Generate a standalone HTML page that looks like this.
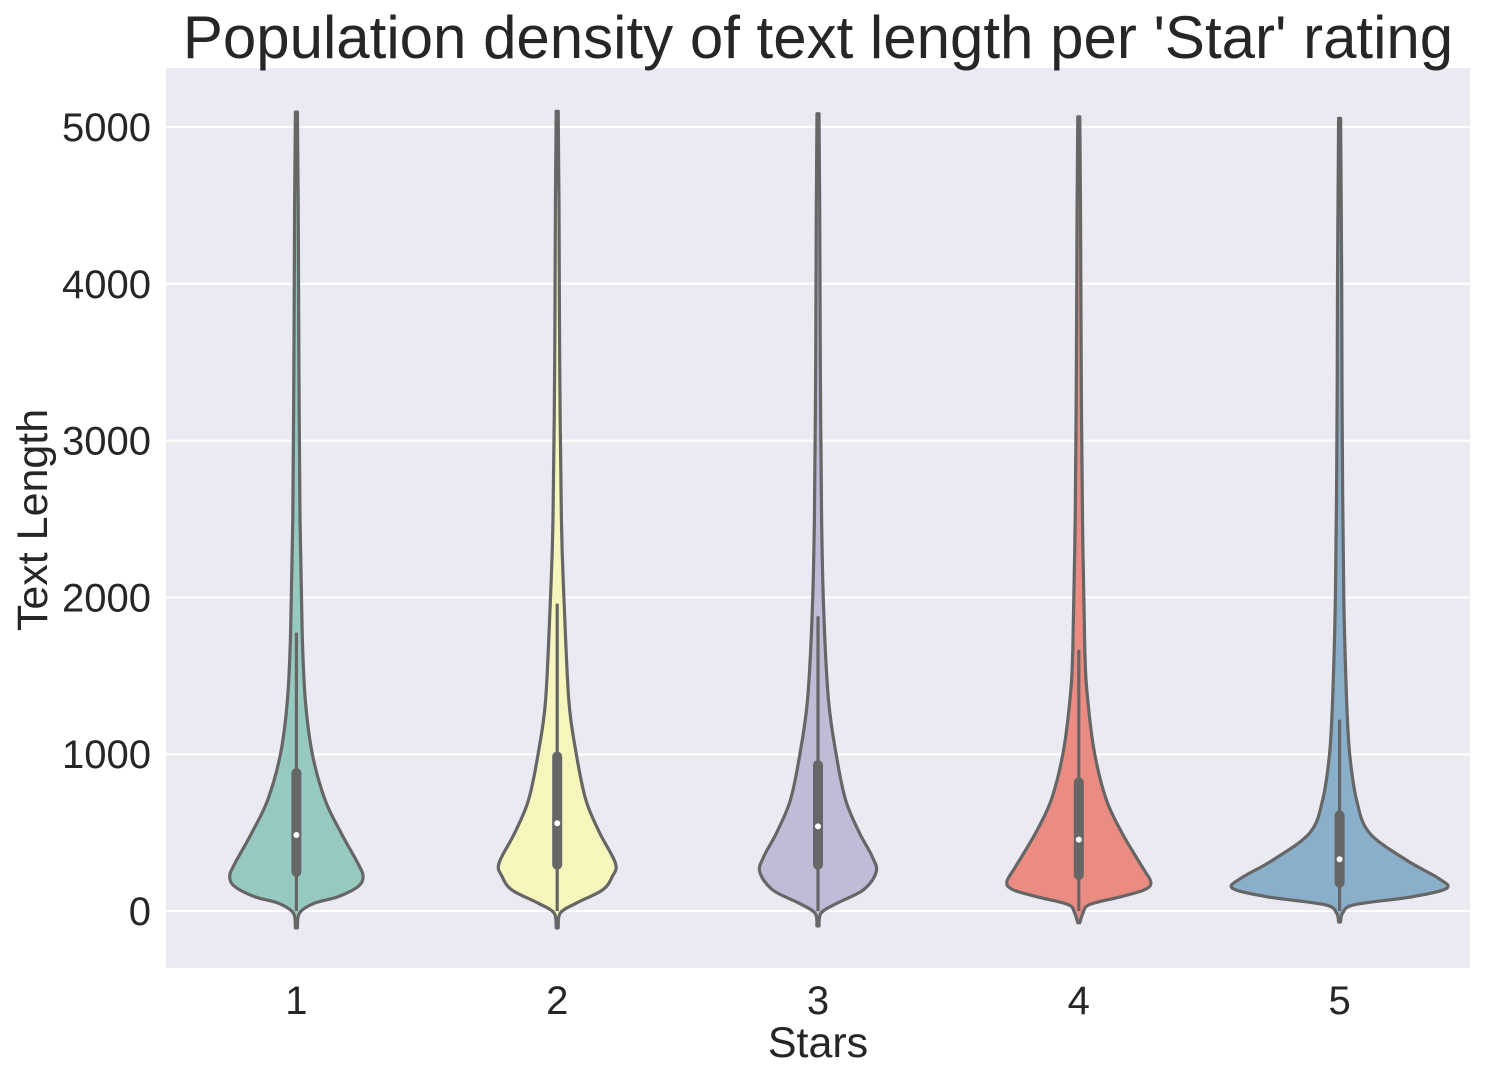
<!DOCTYPE html>
<html><head><meta charset="utf-8"><style>
html,body{margin:0;padding:0;background:#fff;}
svg text{font-family:"Liberation Sans",Arial,sans-serif;fill:#262626;}
</style></head><body>
<svg id="chart" width="1485" height="1081" viewBox="0 0 1485 1081" xmlns="http://www.w3.org/2000/svg">
<rect x="166" y="68" width="1304" height="900" fill="#eaeaf2"/>
<g id="grid"></g><g id="violins"></g><g id="ticks"></g>
<text x="818" y="58" font-size="60" text-anchor="middle">Population density of text length per 'Star' rating</text>
<text x="818" y="1057" font-size="43" text-anchor="middle">Stars</text>
<text transform="translate(47,520) rotate(-90)" font-size="43" text-anchor="middle">Text Length</text>
</svg>
<script>
const categories = ['1','2','3','4','5'];
const yTicks = [0,1000,2000,3000,4000,5000];
const colors = ['#96cac1','#f6f6bc','#c0bcd8','#ea8c82','#8aafca'];
const v1Vals = [-108,-13,50,90,155,220,305,500,710,1005,1345,1770,2500,3500,4500,5095];
const v1Dens = [0,0.02,0.16,0.38,0.57,0.62,0.57,0.41,0.26,0.14,0.075,0.045,0.025,0.014,0.008,0];
const v2Vals = [-108,-13,50,135,220,305,500,710,1005,1345,1985,2500,3500,4500,5100];
const v2Dens = [0,0.02,0.17,0.42,0.51,0.54,0.39,0.26,0.17,0.10,0.055,0.03,0.014,0.008,0];
const v3Vals = [-95,-13,50,135,250,350,500,710,1005,1345,1900,2500,3500,4500,5085];
const v3Dens = [0,0.02,0.17,0.42,0.54,0.5,0.38,0.25,0.16,0.09,0.045,0.025,0.012,0.007,0];
const v4Vals = [-75,-13,40,90,135,185,280,495,710,1005,1345,1665,2500,3500,4500,5065];
const v4Dens = [0,0.03,0.09,0.38,0.61,0.67,0.59,0.40,0.25,0.14,0.075,0.047,0.025,0.013,0.007,0];
const v5Vals = [-70,-13,40,90,145,210,325,500,710,1005,1345,2000,3000,4000,5055];
const v5Dens = [0,0.02,0.13,0.67,1.0,0.92,0.62,0.27,0.15,0.085,0.057,0.03,0.016,0.01,0];
const q1 = [250,295,295,230,180];
const medians = [485,560,540,455,330];
const q3 = [880,985,930,820,610];
const whiskerHigh = [1775,1960,1880,1665,1220];
const whiskerLow = [0,0,0,0,0];

const NS='http://www.w3.org/2000/svg';
const X0=166,X1=1470,Y0=68,Y1=968;
const yScale=v=>911-v*0.1568;
const band=(X1-X0)/categories.length;
const xScale=i=>X0+band*(i+0.5);
const maxHalf=106;
const vals=[v1Vals,v2Vals,v3Vals,v4Vals,v5Vals];
const dens=[v1Dens,v2Dens,v3Dens,v4Dens,v5Dens];
function mk(tag,attrs,parent){const e=document.createElementNS(NS,tag);for(const k in attrs)e.setAttribute(k,attrs[k]);parent.appendChild(e);return e;}
function smooth(pts){
  let s='M'+pts[0][0].toFixed(1)+','+pts[0][1].toFixed(1);
  for(let i=0;i<pts.length-1;i++){
    const p0=pts[Math.max(0,i-1)],p1=pts[i],p2=pts[i+1],p3=pts[Math.min(pts.length-1,i+2)];
    const c1=[p1[0]+(p2[0]-p0[0])/6,p1[1]+(p2[1]-p0[1])/6];
    const c2=[p2[0]-(p3[0]-p1[0])/6,p2[1]-(p3[1]-p1[1])/6];
    s+='C'+c1[0].toFixed(1)+','+c1[1].toFixed(1)+' '+c2[0].toFixed(1)+','+c2[1].toFixed(1)+' '+p2[0].toFixed(1)+','+p2[1].toFixed(1);
  }
  return s;
}
const grid=document.getElementById('grid'),ticks=document.getElementById('ticks'),vg=document.getElementById('violins');
yTicks.forEach(t=>{
  const l=mk('line',{x1:X0,x2:X1,y1:yScale(t),y2:yScale(t),stroke:'#fff','stroke-width':2},grid);
  
  
  const tx=mk('text',{x:151,y:yScale(t)+14,'font-size':40,'text-anchor':'end'},ticks);
  tx.textContent=t;
  
  
});
categories.forEach((c,i)=>{
  const cx=xScale(i);
  const tx=mk('text',{x:cx,y:1014,'font-size':40,'text-anchor':'middle'},ticks);
  tx.textContent=c;
  
  
  const g=mk('g',{},vg);
  
  
  const v=vals[i],d=dens[i];
  const right=[],left=[];
  for(let k=0;k<v.length;k++)right.push([cx+d[k]*maxHalf+1,yScale(v[k])]);
  for(let k=v.length-1;k>=0;k--)left.push([cx-d[k]*maxHalf-1,yScale(v[k])]);
  const dstr=smooth(right)+smooth(left).replace(/^M/,'L')+'Z';
  const p=mk('path',{d:dstr,fill:colors[i],stroke:'#666','stroke-width':3.2,'stroke-linejoin':'round'},g);
  
  
  const w=mk('line',{x1:cx,x2:cx,y1:yScale(whiskerLow[i]),y2:yScale(whiskerHigh[i]),stroke:'#666','stroke-width':3.2},g);
  
  
  const b=mk('line',{x1:cx,x2:cx,y1:yScale(q1[i]),y2:yScale(q3[i]),stroke:'#666','stroke-width':10,'stroke-linecap':'round'},g);
  
  
  const m=mk('circle',{cx:cx,cy:yScale(medians[i]),r:3,fill:'#fff'},g);
  
  
});
</script>
</body></html>
